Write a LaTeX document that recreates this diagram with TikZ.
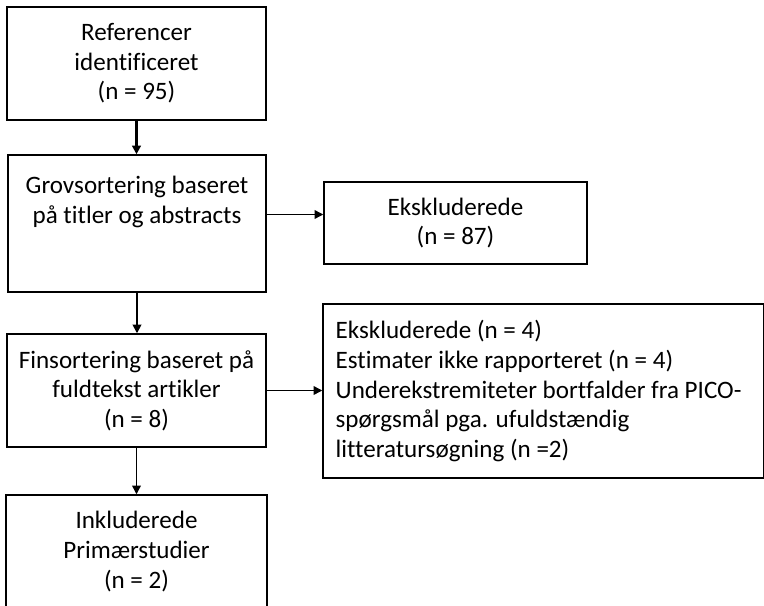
\documentclass[tikz,border=0pt]{standalone}
\usepackage{fontspec}
\setmainfont{Carlito}[Ligatures=NoCommon]
\usetikzlibrary{arrows.meta}

\begin{document}
\begin{tikzpicture}[x=0.75pt, y=-0.75pt,
  box/.style={draw, line width=1.1pt, inner sep=0pt, align=center, font=\fontsize{18.8}{22.2}\selectfont},
  arr/.style={-{Triangle[length=6.5pt,width=6.5pt]}, line width=1pt}]
  \useasboundingbox (0,0) rectangle (764,606);

  \node[box, minimum width=194.25pt, minimum height=84.75pt] (ref) at (136.5,63.5) {Referencer\\identificeret\\(n = 95)};
  \node[box, minimum width=193.5pt, minimum height=102.75pt] (grov) at (137,223.5) {Grovsortering baseret\\på titler og abstracts\\[13pt]\mbox{}};
  \node[box, minimum width=197.25pt, minimum height=61.5pt] (eks1) at (455.5,223) {Ekskluderede\\(n = 87)};
  \node[box, minimum width=194.25pt, minimum height=84.75pt] (fin) at (136.5,390.5) {Finsortering baseret på\\fuldtekst artikler\\(n = 8)};
  \node[box, align=flush left, inner xsep=9.5pt, text width=311.75pt, minimum height=130.5pt] (eks2) at (543.5,391) {Ekskluderede (n = 4)\\Estimater ikke rapporteret (n = 4)\\Underekstremiteter bortfalder fra PICO-\\spørgsmål pga. ufuldstændig\\litteratursøgning (n =2)};
  \node[box, minimum width=195.75pt, minimum height=84.75pt] (inkl) at (136.5,551.5) {Inkluderede\\Primærstudier\\(n = 2)};

  \draw[arr, line width=1.6pt] (ref.south) -- (ref.south |- grov.north);
  \draw[arr] ([yshift=6.75pt]grov.east) -- ([yshift=6.75pt]grov.east -| eks1.west);
  \draw[arr, line width=1.3pt] (grov.south) -- (grov.south |- fin.north);
  \draw[arr] (fin.east) -- (fin.east -| eks2.west);
  \draw[arr] (fin.south) -- (fin.south |- inkl.north);
\end{tikzpicture}
\end{document}
